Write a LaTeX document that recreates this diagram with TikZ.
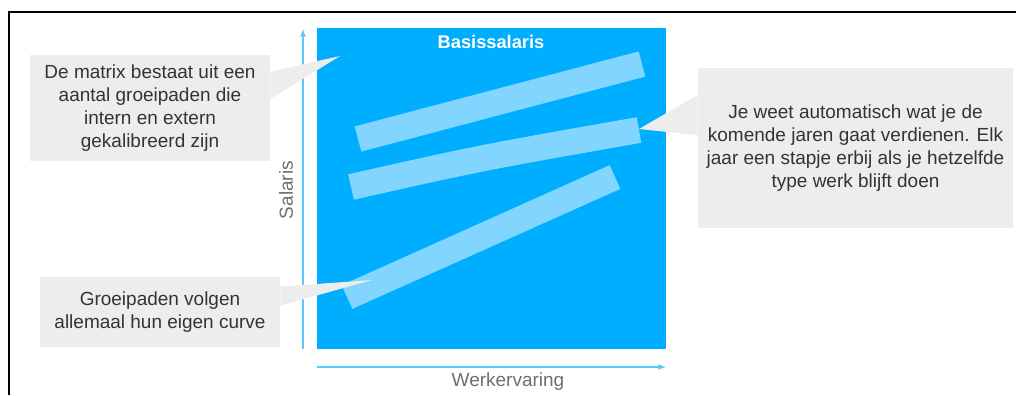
\documentclass[tikz,border=0pt]{standalone}
\usepackage{fontspec}
\setmainfont{Liberation Sans}
\usepackage{xcolor}
\usetikzlibrary{arrows, calc}

\definecolor{matrixblue}{RGB}{0,174,255}
\definecolor{barblue}{RGB}{130,213,255}
\definecolor{axisblue}{RGB}{90,200,255}
\definecolor{notegray}{RGB}{237,237,237}
\definecolor{textgray}{RGB}{51,51,51}
\definecolor{labelgray}{RGB}{110,110,110}

\begin{document}
\begin{tikzpicture}[
    x=0.025cm, y=-0.025cm,
    basis/.style={fill=matrixblue,inner sep=0pt},
    bar/.style={barblue,line width=0.65cm},
    axis/.style={axisblue,line width=0.9pt,-latex},
    callout/.style={fill=notegray,inner sep=0pt,align=center,text=textgray,
        font=\fontsize{13.5}{16.3}\selectfont},
    axislabel/.style={text=labelgray,font=\fontsize{13.5}{16}\selectfont}
]

\useasboundingbox (0,0) rectangle (1016,395);

% Frame
\draw[line width=2pt] (9,395) -- (9,12) -- (1016,12);

% Matrix
\node[basis,minimum width=8.725cm,minimum height=8.025cm] (matrix) at (491.5,188.5) {};
\node[text=white,font=\bfseries\fontsize{13}{15}\selectfont] (title) at (491,42) {Basissalaris};

% Axes
\draw[axis] (303,349) -- (303,29);
\draw[axis] (317,367) -- (666,367);
\node[axislabel,rotate=90] (ylab) at (286,190) {Salaris};
\node[axislabel] (xlab) at (508,382) {Werkervaring};

% Groeipaden
\draw[bar] (358,139) -- (642,64);
\draw[bar] (351,187) .. controls (480,158) .. (639,130);
\draw[bar] (347,297) -- (615,177);

% Notes
\node[callout,minimum width=6cm,minimum height=2.65cm] (note1) at (150,108)
    {De matrix bestaat uit een\\aantal groeipaden die\\intern en extern\\gekalibreerd zijn};
\node[callout,minimum width=7.875cm,minimum height=4cm] (note2) at (855.5,148)
    {Je weet automatisch wat je de\\komende jaren gaat verdienen. Elk\\jaar een stapje erbij als je hetzelfde\\type werk blijft doen};
\node[callout,minimum width=6cm,minimum height=1.75cm] (note3) at (160,312)
    {Groeipaden volgen\\allemaal hun eigen curve};

\coordinate (tip1) at (340,56);
\coordinate (tip2) at (639,129);
\coordinate (tip3) at (372,280);

% Pointers
\fill[notegray] ($(note1.north east)!0.16!(note1.south east)$) -- (tip1)
    -- ($(note1.north east)!0.415!(note1.south east)$) -- cycle;
\fill[notegray] ($(note2.north west)!0.17!(note2.south west)$) -- (tip2)
    -- ($(note2.north west)!0.42!(note2.south west)$) -- cycle;
\fill[notegray] ($(note3.north east)!0.14!(note3.south east)$) -- (tip3)
    -- ($(note3.north east)!0.41!(note3.south east)$) -- cycle;

\end{tikzpicture}
\end{document}
